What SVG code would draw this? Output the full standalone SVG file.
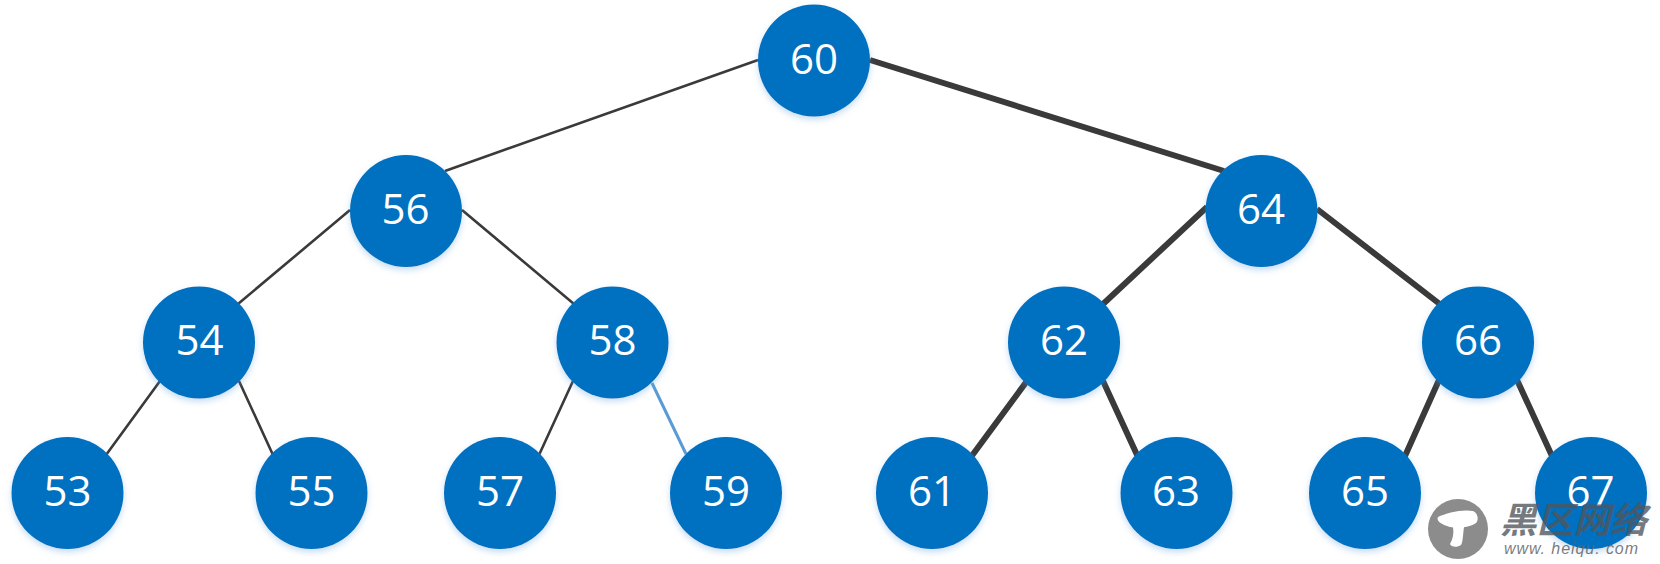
<svg xmlns="http://www.w3.org/2000/svg" width="1660" height="564" viewBox="0 0 1660 564">
<style>
.n{fill:#0070c0;filter:url(#s)}
.t{font-family:"Open Sans","Noto Sans",sans-serif;font-size:42px;fill:#fff;text-anchor:middle}
.a{stroke:#3a3a3a;stroke-width:2.6;fill:none}
.b{stroke:#3a3a3a;stroke-width:6;fill:none}
.c{stroke:#5b9bd5;stroke-width:3;fill:none}
</style>
<defs><filter id="s" x="-20%" y="-20%" width="140%" height="140%"><feDropShadow dx="0" dy="3" stdDeviation="3" flood-color="#5b9bd5" flood-opacity=".35"/></filter></defs>
<rect width="1660" height="564" fill="#fff"/>
<g id="connectors">
<path class="a" d="M758 60L445 171"/><path class="b" d="M870 60L1224 171"/>
<path class="a" d="M350 210L238 304M462 210L574 304"/>
<path class="a" d="M160 381L106 455M239 381L273 455M573 381L539 455"/>
<path class="c" d="M652 383L686 454"/>
<path class="b" d="M1207 207L1102 305M1317 209L1441 305M1027 381L971 457M1103 381L1138 457M1439 380L1405 456M1517 380L1552 456"/>
</g>
<g id="n60"><circle class="n" cx="814" cy="60.500" r="56"/><text class="t" x="814" y="73.500">60</text></g>
<g id="n56"><circle class="n" cx="406" cy="211" r="56"/><text class="t" x="405.500" y="224">56</text></g>
<g id="n64"><circle class="n" cx="1261.500" cy="211" r="56"/><text class="t" x="1261" y="224">64</text></g>
<g id="n54"><circle class="n" cx="199" cy="342.500" r="56"/><text class="t" x="199.500" y="355">54</text></g>
<g id="n58"><circle class="n" cx="612.500" cy="342.500" r="56"/><text class="t" x="612.500" y="355">58</text></g>
<g id="n62"><circle class="n" cx="1064" cy="342.500" r="56"/><text class="t" x="1064" y="355">62</text></g>
<g id="n66"><circle class="n" cx="1478" cy="342.500" r="56"/><text class="t" x="1478" y="355">66</text></g>
<g id="n53"><circle class="n" cx="67.500" cy="493" r="56"/><text class="t" x="67.500" y="506">53</text></g>
<g id="n55"><circle class="n" cx="311.500" cy="493" r="56"/><text class="t" x="311.500" y="506">55</text></g>
<g id="n57"><circle class="n" cx="500" cy="493" r="56"/><text class="t" x="500" y="506">57</text></g>
<g id="n59"><circle class="n" cx="726" cy="493" r="56"/><text class="t" x="726" y="506">59</text></g>
<g id="n61"><circle class="n" cx="932" cy="493" r="56"/><text class="t" x="932" y="506">61</text></g>
<g id="n63"><circle class="n" cx="1176.500" cy="493" r="56"/><text class="t" x="1176" y="506">63</text></g>
<g id="n65"><circle class="n" cx="1365" cy="493" r="56"/><text class="t" x="1365" y="506">65</text></g>
<g id="n67"><circle class="n" cx="1591" cy="493" r="56"/><text class="t" x="1590.500" y="506">67</text></g>
<g id="watermark">
<circle cx="1458" cy="529" r="30" fill="#8c8c8c"/>
<path d="M1438 517C1446 513 1462 509 1473 511C1478 513 1479 520 1476 523C1470 528 1453 529 1447 526C1441 524 1436 521 1438 517Z" fill="#fff"/>
<path d="M1453 527L1464 527C1463 534 1463 542 1461 545C1457 548 1451 547 1450 544C1453 539 1454 533 1453 527Z" fill="#fff"/>
<text x="1500" y="533" font-family="'Noto Sans CJK SC',sans-serif" font-size="36" font-weight="700" font-style="italic" fill="#50565c" fill-opacity=".78" textLength="147" lengthAdjust="spacingAndGlyphs">黑区网络</text>
<text x="1504" y="554" font-family="'Liberation Sans',sans-serif" font-size="16" font-style="italic" fill="#5f6468" fill-opacity=".85" textLength="134">www. heiqu. com</text>
</g>
</svg>
